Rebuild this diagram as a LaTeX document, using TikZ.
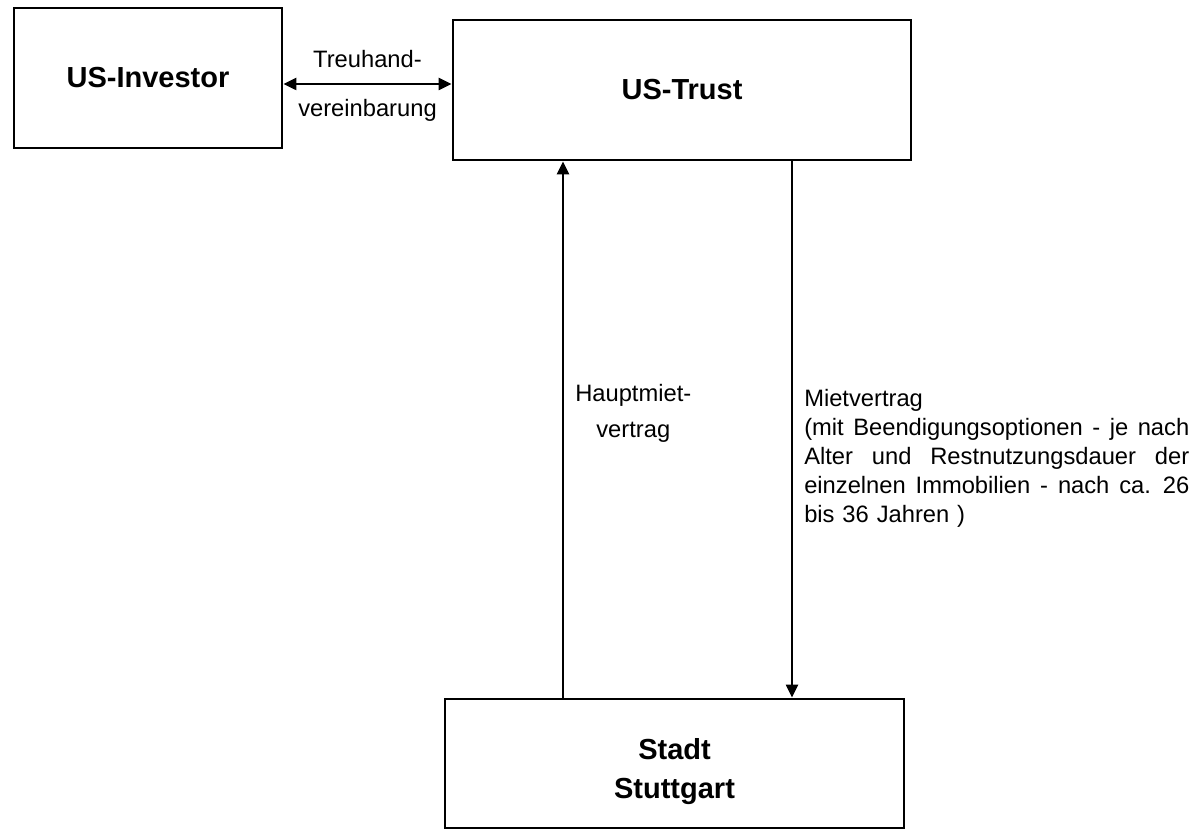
\documentclass[tikz,border=0pt]{standalone}
\usepackage{fontspec}
\setmainfont{Liberation Sans}
\usetikzlibrary{positioning,arrows.meta}
\newcommand{\fullline}[1]{\makebox[7.7cm][s]{\spaceskip=0.28em plus 1fil\relax #1}}

\begin{document}
\begin{tikzpicture}[auto, semithick,
>={Triangle[length=0.26cm,width=0.24cm]},
party/.style ={rectangle, draw, line width=1.6pt, align=center, inner sep=0pt,
font=\fontsize{16.5}{22}\selectfont\bfseries},
link/.style ={line width=1.3pt},
lbl/.style ={font=\fontsize{13.5}{16.5}\selectfont}]
\useasboundingbox (0,0) rectangle (23.9,16.6);
\node[party, minimum width=5.36cm, minimum height=2.8cm] (investor) at (2.96,15.04) {US-Investor};
\node[party, minimum width=9.16cm, minimum height=2.8cm] (trust) at (13.64,14.8) {US-Trust};
\node[party, minimum width=9.18cm, minimum height=2.58cm] (stadt) at (13.49,1.33)
  {\raisebox{-0.16cm}[\height][\depth]{\shortstack{Stadt\\[8pt]Stuttgart}}};

\coordinate (up) at (11.26,0);
\coordinate (down) at (15.84,0);

\draw[link, <->] ([yshift=-0.12cm]investor.east) -- node[lbl, above=5pt]{Treuhand-}
  node[lbl, below=4.5pt]{vereinbarung} ([yshift=-0.12cm]investor.east -| trust.west);
\draw[link, ->] (up |- stadt.north) -- node[lbl, pos=0.53, right=3pt, align=center,
  font=\fontsize{13.5}{20}\selectfont]{Hauptmiet-\\vertrag} (up |- trust.south);
\draw[link, ->] (down |- trust.south) -- node[lbl, pos=0.553, right=3pt, text width=7.7cm,
  align=left]{Mietvertrag\\
  \fullline{(mit Beendigungsoptionen - je nach}\\
  \fullline{Alter und Restnutzungsdauer der}\\
  \fullline{einzelnen Immobilien - nach ca. 26}\\
  bis 36 Jahren )} (down |- stadt.north);
\end{tikzpicture}
\end{document}
